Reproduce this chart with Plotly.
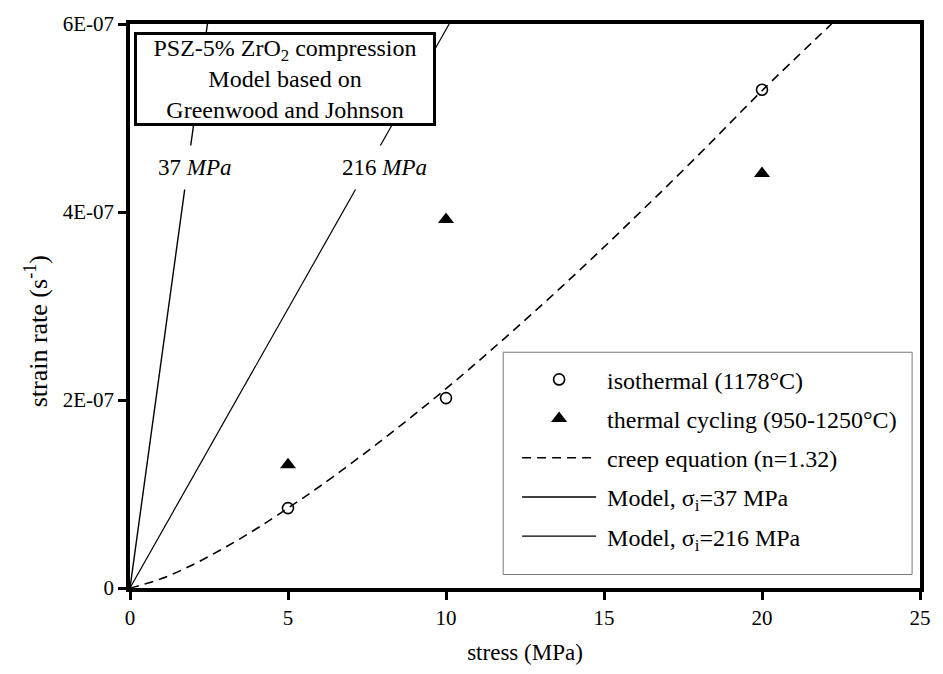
import plotly.graph_objects as go

# ---- data ----
iso_stress = [5, 10, 20]
iso_rate = [0.85e-7, 2.02e-7, 5.30e-7]

cyc_stress = [5, 10, 20]
cyc_rate = [1.31e-7, 3.92e-7, 4.41e-7]

creep_stress = [0, 1, 2, 3, 4, 5, 6, 8, 10, 12, 14, 16, 18, 20, 22.2]
creep_rate = [0, 1.0e-8, 2.5e-8, 4.3e-8, 6.3e-8, 8.5e-8, 1.08e-7, 1.58e-7,
              2.12e-7, 2.70e-7, 3.31e-7, 3.95e-7, 4.61e-7, 5.29e-7, 6.0e-7]

m37_stress = [0, 2.45]
m37_rate = [0, 6.0e-7]

m216_stress = [0, 10.1]
m216_rate = [0, 6.0e-7]

x_ticks = [0, 5, 10, 15, 20, 25]
y_ticks = [0, 2e-7, 4e-7, 6e-7]
y_ticktext = ["0", "2E-07", "4E-07", "6E-07"]

FONT = "Times New Roman"
PAD = "\u00a0"

fig = go.Figure()
fig.add_trace(go.Scatter(
    x=iso_stress, y=iso_rate, mode="markers", name=PAD + "isothermal (1178°C)",
    marker=dict(symbol="circle-open", size=11, color="black", line=dict(width=1.6)),
    legendgroup="a"))
fig.add_trace(go.Scatter(
    x=cyc_stress, y=cyc_rate, mode="markers", name=PAD + "thermal cycling (950-1250°C)",
    marker=dict(symbol="triangle-up", size=14, color="black"),
    legendgroup="b"))
fig.add_trace(go.Scatter(
    x=creep_stress, y=creep_rate, mode="lines", name=PAD + "creep equation (n=1.32)",
    line=dict(color="black", width=1.6, dash="9px,6px"), line_shape="spline",
    legendgroup="c"))
fig.add_trace(go.Scatter(
    x=m37_stress, y=m37_rate, mode="lines", name=PAD + "Model, σ<sub>i</sub>=37 MPa",
    line=dict(color="black", width=1.4), legendgroup="d"))
fig.add_trace(go.Scatter(
    x=m216_stress, y=m216_rate, mode="lines", name=PAD + "Model, σ<sub>i</sub>=216 MPa",
    line=dict(color="black", width=1.2), legendgroup="e"))

# inline line labels
fig.add_annotation(x=2.04, y=4.47e-7, text="37 <i>MPa</i>", showarrow=False,
                   font=dict(family=FONT, size=23, color="black"),
                   bgcolor="white", borderpad=9)
fig.add_annotation(x=8.06, y=4.47e-7, text="216 <i>MPa</i>", showarrow=False,
                   font=dict(family=FONT, size=23, color="black"),
                   bgcolor="white", borderpad=9)

# title box
fig.add_annotation(x=4.92, y=5.41e-7, xanchor="center", yanchor="middle",
                   text="PSZ-5% ZrO<sub>2</sub> compression<br>Model based on<br>Greenwood and Johnson",
                   showarrow=False, align="center",
                   font=dict(family=FONT, size=24, color="black"),
                   bgcolor="white", bordercolor="black", borderwidth=3, borderpad=2,
                   width=292, height=84)

# y-axis title
fig.add_annotation(xref="paper", yref="paper", x=-0.119, y=0.455,
                   xanchor="center", yanchor="middle", textangle=-90,
                   text="strain rate (s<sup>-1</sup>)", showarrow=False,
                   font=dict(family=FONT, size=26, color="black"))

# legend frame
fig.add_shape(type="rect", xref="paper", yref="paper",
              x0=0.4724, x1=0.99, y0=0.024, y1=0.418,
              line=dict(color="#777", width=1), fillcolor="white", layer="above")

fig.update_layout(
    width=943, height=674,
    margin=dict(l=130, r=15, t=13, b=77),
    paper_bgcolor="white", plot_bgcolor="white",
    font=dict(family=FONT, size=21, color="black"),
    showlegend=True,
    legend=dict(x=0.49, y=0.409, xanchor="left", yanchor="top",
                bgcolor="rgba(0,0,0,0)", borderwidth=0,
                font=dict(family=FONT, size=24, color="black"),
                itemwidth=74, tracegroupgap=5),
    xaxis=dict(range=[0, 25], tickvals=x_ticks, ticks="outside", ticklen=8,
               tickwidth=2.5, tickcolor="black", showline=True, linewidth=3.5,
               linecolor="black", mirror=True, showgrid=False, zeroline=False,
               title=dict(text="stress (MPa)", font=dict(family=FONT, size=23), standoff=16),
               tickfont=dict(family=FONT, size=21)),
    yaxis=dict(range=[0, 6e-7], tickvals=y_ticks, ticktext=y_ticktext,
               ticks="outside", ticklen=8, tickwidth=2.5, tickcolor="black",
               showline=True, linewidth=3.5, linecolor="black", mirror=True,
               showgrid=False, zeroline=False,
               tickfont=dict(family=FONT, size=21)),
)

fig.write_html("out.html")
